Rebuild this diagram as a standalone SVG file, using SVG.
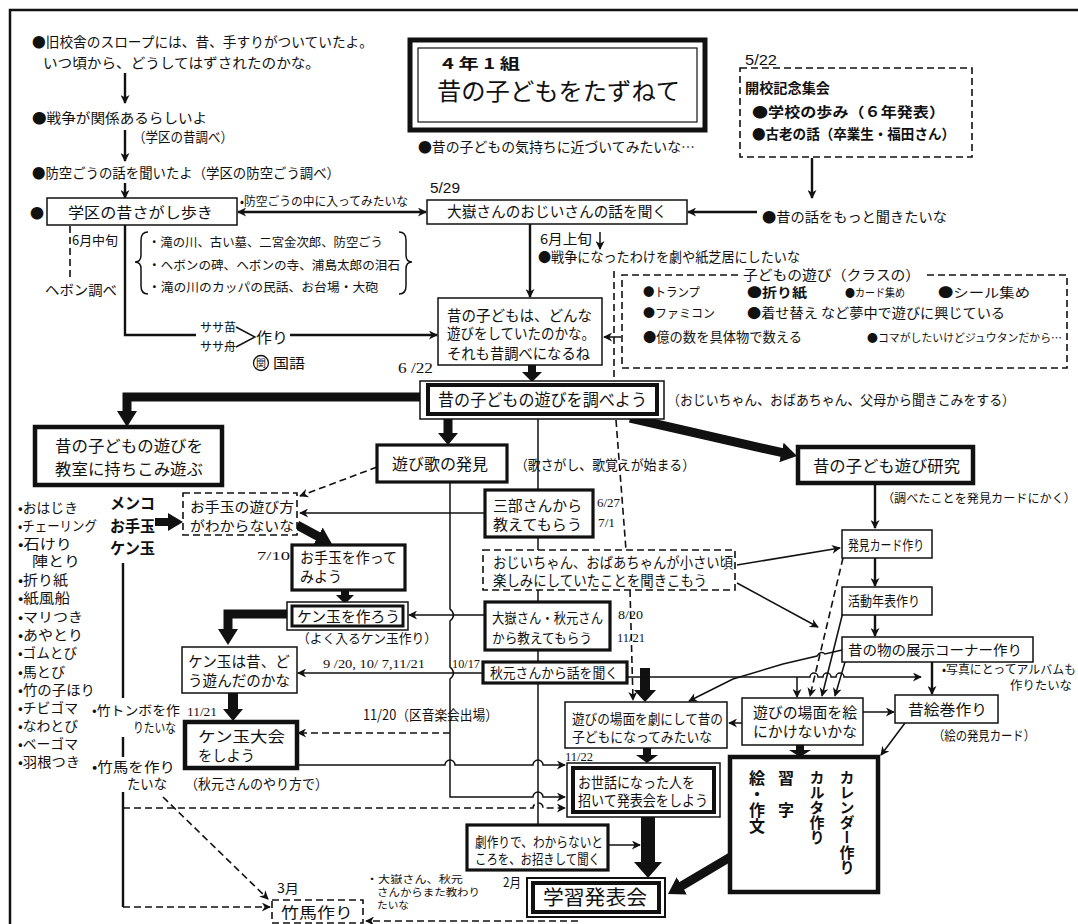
<svg xmlns="http://www.w3.org/2000/svg" width="1078" height="924" viewBox="0 0 1078 924">
<defs>
<style>
text{font-family:"Noto Sans CJK JP","Noto Sans CJK SC",sans-serif;fill:#111;}
.n{font-family:"Liberation Serif",serif;}
.ns{font-family:"Liberation Sans",sans-serif;}
.bx{fill:#fff;stroke:#111;stroke-width:1.5;}
.bk{fill:#fff;stroke:#111;stroke-width:4.5;}
.bm{fill:#fff;stroke:#111;stroke-width:3.2;}
.ds{fill:#fff;stroke:#111;stroke-width:1.6;stroke-dasharray:7 4;}
.l{fill:none;stroke:#111;stroke-width:1.5;}
.l2{fill:none;stroke:#111;stroke-width:2.4;}
.ld{fill:none;stroke:#111;stroke-width:1.6;stroke-dasharray:7 4;}
.th{fill:none;stroke:#111;stroke-width:9;}
.ba{fill:#111;stroke:none;}
</style>
<marker id="a" viewBox="0 0 10 10" refX="9" refY="5" markerWidth="11" markerHeight="9" markerUnits="userSpaceOnUse" orient="auto-start-reverse"><path d="M0,0 L10,5 L0,10 L3,5 z" fill="#111"/></marker>
<marker id="T" viewBox="0 0 16 20" refX="1" refY="10" markerWidth="16" markerHeight="20" markerUnits="userSpaceOnUse" orient="auto"><path d="M0,0 L16,10 L0,20 z" fill="#111"/></marker>
</defs>
<rect x="0" y="0" width="1078" height="924" fill="#fff"/>
<path d="M10,924 V10 H1078" fill="none" stroke="#111" stroke-width="2.5"/>

<g id="connectors">
<line x1="125" y1="73" x2="125" y2="103" class="l2" marker-end="url(#a)"/>
<line x1="125" y1="130" x2="125" y2="161" class="l2" marker-end="url(#a)"/>
<line x1="125" y1="183" x2="125" y2="198" class="l2" marker-end="url(#a)"/>
<line x1="238" y1="212" x2="426" y2="212" class="l2" marker-start="url(#a)" marker-end="url(#a)"/>
<line x1="757" y1="212" x2="688" y2="212" class="l2" marker-end="url(#a)"/>
<line x1="812" y1="158" x2="812" y2="198" class="l2" marker-end="url(#a)"/>
<line x1="70" y1="226" x2="70" y2="280" class="ld"/>
<path d="M125,225 V335 H196" class="l2"/>
<path d="M290,335 H437" class="l2" marker-end="url(#a)"/>
<line x1="530" y1="224" x2="530" y2="297" class="l2" marker-end="url(#a)"/>
<line x1="600" y1="232" x2="600" y2="249" class="l" marker-end="url(#a)"/>
<path d="M614,271 V381" class="ld"/>
<path d="M616,420 L626,550" class="ld"/>
<line x1="621" y1="337" x2="604" y2="337" class="l" marker-end="url(#a)"/>
<polygon class="ba" points="528,362 536,362 536,372 542,372 532,382 522,372 528,372"/>
<path d="M420,397 H127 V412" class="th" marker-end="url(#T)"/>
<polygon class="ba" points="443.5,419 452.5,419 452.5,433 458,433 448,445 438,433 443.5,433"/>
<path d="M630,418 L782.4,452.7" class="th" marker-end="url(#T)"/>
<line x1="377" y1="467" x2="300" y2="496" class="ld" marker-end="url(#a)"/>
<path d="M538,419 V825" class="l"/>
<path d="M485,513 H300" class="l" marker-end="url(#a)"/>
<polygon class="ba" points="155,518 168,518 168,513 183,522 168,531 168,526 155,526"/>
<path d="M297,525 L318.8,536.8" class="th" stroke-width="8" marker-end="url(#T)"/>
<polygon class="ba" points="341,590 349,590 349,595 354,595 345,604 336,595 341,595"/>
<path d="M287,614 H228 V630" class="th" marker-end="url(#T)"/>
<path d="M485,615 H409" class="l" marker-end="url(#a)"/>
<path d="M450,482 V609 Q457,615 450,621 V667 Q457,673 450,679 V797 H533 a5,5 0 0 1 10,0 H565" class="l" marker-end="url(#a)"/>
<path d="M450,733 H298" class="ld" marker-end="url(#a)"/>
<path d="M483,673 H298" class="l" marker-end="url(#a)"/>
<polygon class="ba" points="228,693 238,693 238,709 243,709 233,721 223,709 228,709"/>
<path d="M297,765 H445 a5,5 0 0 1 10,0 H533 a5,5 0 0 1 10,0 H565" class="l" marker-end="url(#a)"/>
<path d="M123,808 H533 a5,5 0 0 1 10,0 H565" class="ld" marker-end="url(#a)"/>
<path d="M123,563 V698 M123,737 V757 M123,792 V907" class="l2"/>
<path d="M123,907 H270" class="ld" marker-end="url(#a)"/>
<path d="M163,797 L268,899" class="ld" marker-end="url(#a)"/>
<path d="M578,921 H366" class="ld" marker-end="url(#a)"/>
<path d="M630,590 L633,700" class="ld" marker-end="url(#a)"/>
<polygon class="ba" points="640,668 650,668 650,690 656,690 645,702 634,690 640,690"/>
<path d="M737,565 L840,548" class="l" marker-end="url(#a)"/>
<path d="M737,583 L818,627" class="l" marker-end="url(#a)"/>
<path d="M875,483 V528" class="l2" marker-end="url(#a)"/>
<path d="M875,558 V586" class="l2" marker-end="url(#a)"/>
<path d="M875,615 V636" class="l2" marker-end="url(#a)"/>
<path d="M627,677 H810 a4,4 0 0 1 8,0 H823 a4,4 0 0 1 8,0 H836 a4,4 0 0 1 8,0 H921" class="l" marker-end="url(#a)"/>
<path d="M797,677 V697" class="l" marker-end="url(#a)"/>
<path d="M843,558 L810,696" class="ld" marker-end="url(#a)"/>
<path d="M843,612 L822,696" class="l" marker-end="url(#a)"/>
<path d="M845,662 L835,696" class="l" marker-end="url(#a)"/>
<path d="M842,650 L825,654 Q821,650 817,656 L783,664 L733,679 L689,701" class="l" marker-end="url(#a)"/>
<path d="M932,662 V694" class="l2" marker-end="url(#a)"/>
<path d="M863,712 H894" class="l" marker-end="url(#a)"/>
<path d="M742,723 H729" class="l" marker-end="url(#a)"/>
<polygon class="ba" points="796,745 804,745 804,750 811,750 800,757 789,750 796,750"/>
<path d="M905,723 L881,755" class="l" marker-end="url(#a)"/>
<path d="M732,856 L680.9,886.3" class="th" marker-end="url(#T)"/>
<polygon class="ba" points="643,748 651,748 651,755 658,755 647,763 636,755 643,755"/>
<polygon class="ba" points="641,817 655,817 655,862 662,862 648,878 634,862 641,862"/>
<path d="M608,845 H640" class="l" marker-end="url(#a)"/>
</g>

<g id="intro">
<text x="32" y="47" font-size="14" textLength="341" lengthAdjust="spacingAndGlyphs">●旧校舎のスロープには、昔、手すりがついていたよ。</text>
<text x="43" y="68" font-size="14" textLength="277" lengthAdjust="spacingAndGlyphs">いつ頃から、どうしてはずされたのかな。</text>
<text x="32" y="123" font-size="14" textLength="175" lengthAdjust="spacingAndGlyphs">●戦争が関係あるらしいよ</text>
<text x="133" y="142" font-size="14" textLength="100" lengthAdjust="spacingAndGlyphs">（学区の昔調べ）</text>
<text x="32" y="178" font-size="14" textLength="308" lengthAdjust="spacingAndGlyphs">●防空ごうの話を聞いたよ（学区の防空ごう調べ）</text>
<text x="30" y="218" font-size="14">●</text>
</g>

<g id="title">
<rect x="410" y="40" width="295" height="90" fill="#fff" stroke="#111" stroke-width="5"/>
<rect x="418" y="48" width="279" height="74" fill="none" stroke="#111" stroke-width="1.2"/>
<text x="442" y="69" font-size="15" font-weight="bold" textLength="78" lengthAdjust="spacingAndGlyphs">4 年 1 組</text>
<text x="437" y="100" font-size="24" textLength="243" lengthAdjust="spacingAndGlyphs">昔の子どもをたずねて</text>
<text x="418" y="152" font-size="14" textLength="277" lengthAdjust="spacingAndGlyphs">●昔の子どもの気持ちに近づいてみたいな…</text>
</g>

<g id="n-kaikou">
<text x="745" y="65" font-size="14" class="ns" textLength="32" lengthAdjust="spacingAndGlyphs">5/22</text>
<rect x="740" y="68" width="232" height="89" class="ds"/>
<text x="745" y="93" font-size="14" font-weight="bold" textLength="85" lengthAdjust="spacingAndGlyphs">開校記念集会</text>
<text x="752" y="117" font-size="14" font-weight="bold" textLength="193" lengthAdjust="spacingAndGlyphs">●学校の歩み（６年発表）</text>
<text x="752" y="139" font-size="14" font-weight="bold" textLength="203" lengthAdjust="spacingAndGlyphs">●古老の話（卒業生・福田さん）</text>
</g>

<g id="n-motto">
<text x="762" y="222" font-size="14" textLength="185" lengthAdjust="spacingAndGlyphs">●昔の話をもっと聞きたいな</text>
</g>

<g id="n-gakku">
<rect x="47" y="198" width="190" height="27" class="bx"/>
<text x="68" y="218" font-size="15" textLength="145" lengthAdjust="spacingAndGlyphs">学区の昔さがし歩き</text>
<text x="240" y="206" font-size="12" textLength="168" lengthAdjust="spacingAndGlyphs">•防空ごうの中に入ってみたいな</text>
<text x="72" y="245" font-size="13" textLength="46" lengthAdjust="spacingAndGlyphs">6月中旬</text>
<text x="45" y="295" font-size="14" textLength="72" lengthAdjust="spacingAndGlyphs">ヘボン調べ</text>
<path d="M148,232 Q141,232 141,240 L141,255 Q141,262 135,262 Q141,262 141,269 L141,286 Q141,294 148,294" class="l"/>
<path d="M399,232 Q406,232 406,240 L406,255 Q406,262 412,262 Q406,262 406,269 L406,286 Q406,294 399,294" class="l"/>
<text x="148" y="247" font-size="12.5" textLength="235" lengthAdjust="spacingAndGlyphs">・滝の川、古い墓、二宮金次郎、防空ごう</text>
<text x="148" y="270" font-size="12.5" textLength="252" lengthAdjust="spacingAndGlyphs">・ヘボンの碑、ヘボンの寺、浦島太郎の泪石</text>
<text x="148" y="292" font-size="12.5" textLength="230" lengthAdjust="spacingAndGlyphs">・滝の川のカッパの民話、お台場・大砲</text>
<text x="200" y="332" font-size="12.5" textLength="36" lengthAdjust="spacingAndGlyphs">ササ苗</text>
<text x="200" y="351" font-size="12.5" textLength="36" lengthAdjust="spacingAndGlyphs">ササ舟</text>
<path d="M236,327 L255,337 L236,347" class="l"/>
<text x="256" y="343" font-size="15" textLength="32" lengthAdjust="spacingAndGlyphs">作り</text>
<circle cx="261" cy="363" r="7.5" fill="none" stroke="#111" stroke-width="1.3"/>
<text x="261" y="367" font-size="10" text-anchor="middle">関</text>
<text x="273" y="368" font-size="14" textLength="32" lengthAdjust="spacingAndGlyphs">国語</text>
</g>

<g id="n-ootake">
<text x="430" y="193" font-size="14" class="ns" textLength="30" lengthAdjust="spacingAndGlyphs">5/29</text>
<rect x="427" y="200" width="260" height="24" class="bx"/>
<text x="447" y="217" font-size="15" textLength="220" lengthAdjust="spacingAndGlyphs">大嶽さんのおじいさんの話を聞く</text>
<text x="540" y="244" font-size="13.5" textLength="52" lengthAdjust="spacingAndGlyphs">6月上旬</text>
<text x="538" y="262" font-size="13.5" textLength="262" lengthAdjust="spacingAndGlyphs">●戦争になったわけを劇や紙芝居にしたいな</text>
</g>

<g id="n-donna">
<rect x="438" y="298" width="164" height="67" class="bx"/>
<text x="447" y="321" font-size="15" textLength="145" lengthAdjust="spacingAndGlyphs">昔の子どもは、どんな</text>
<text x="447" y="339" font-size="15" textLength="148" lengthAdjust="spacingAndGlyphs">遊びをしていたのかな。</text>
<text x="447" y="359" font-size="15" textLength="143" lengthAdjust="spacingAndGlyphs">それも昔調べになるね</text>
<text x="398" y="373" font-size="15" class="n" textLength="35" lengthAdjust="spacingAndGlyphs">6 /22</text>
</g>

<g id="n-kodomo-asobi">
<path d="M738,275 H622 V368 H1067 V275 H925" class="ld"/>
<text x="743" y="280" font-size="14" textLength="177" lengthAdjust="spacingAndGlyphs">子どもの遊び（クラスの）</text>
<text x="643" y="297" font-size="12" textLength="57" lengthAdjust="spacingAndGlyphs">●トランプ</text>
<text x="747" y="297" font-size="13" font-weight="bold" textLength="60" lengthAdjust="spacingAndGlyphs">●折り紙</text>
<text x="845" y="297" font-size="11" textLength="60" lengthAdjust="spacingAndGlyphs">●カード集め</text>
<text x="938" y="297" font-size="13" textLength="92" lengthAdjust="spacingAndGlyphs">●シール集め</text>
<text x="643" y="318" font-size="12" textLength="72" lengthAdjust="spacingAndGlyphs">●ファミコン</text>
<text x="747" y="318" font-size="13.5" textLength="258" lengthAdjust="spacingAndGlyphs">●着せ替え など夢中で遊びに興じている</text>
<text x="643" y="342" font-size="13.5" textLength="159" lengthAdjust="spacingAndGlyphs">●億の数を具体物で数える</text>
<text x="867" y="342" font-size="11" textLength="195" lengthAdjust="spacingAndGlyphs">●コマがしたいけどジュウタンだから…</text>
</g>

<g id="n-shirabeyou">
<rect x="420" y="381" width="244" height="38" class="bx"/>
<rect x="428" y="385" width="229" height="29" fill="#fff" stroke="#111" stroke-width="4"/>
<text x="438" y="406" font-size="17" textLength="209" lengthAdjust="spacingAndGlyphs">昔の子どもの遊びを調べよう</text>
<text x="667" y="405" font-size="14" textLength="348" lengthAdjust="spacingAndGlyphs">（おじいちゃん、おばあちゃん、父母から聞きこみをする）</text>
</g>

<g id="n-kyoushitsu">
<rect x="35" y="427" width="187" height="58" class="bk"/>
<text x="55" y="452" font-size="15.5" textLength="148" lengthAdjust="spacingAndGlyphs">昔の子どもの遊びを</text>
<text x="55" y="475" font-size="15.5" textLength="148" lengthAdjust="spacingAndGlyphs">教室に持ちこみ遊ぶ</text>
</g>

<g id="n-asobiuta">
<rect x="377" y="445" width="130" height="37" class="bm"/>
<text x="392" y="470" font-size="16" textLength="96" lengthAdjust="spacingAndGlyphs">遊び歌の発見</text>
<text x="515" y="470" font-size="14" textLength="180" lengthAdjust="spacingAndGlyphs">（歌さがし、歌覚えが始まる）</text>
</g>

<g id="n-kenkyu">
<rect x="798" y="447" width="175" height="36" class="bk"/>
<text x="813" y="472" font-size="16" textLength="147" lengthAdjust="spacingAndGlyphs">昔の子ども遊び研究</text>
<text x="882" y="503" font-size="12" textLength="194" lengthAdjust="spacingAndGlyphs">（調べたことを発見カードにかく）</text>
</g>

<g id="n-hakken">
<rect x="842" y="530" width="90" height="28" class="bx"/>
<text x="848" y="550" font-size="14" textLength="76" lengthAdjust="spacingAndGlyphs">発見カード作り</text>
</g>
<g id="n-nenpyou">
<rect x="842" y="587" width="90" height="28" class="bx"/>
<text x="848" y="606" font-size="14" textLength="72" lengthAdjust="spacingAndGlyphs">活動年表作り</text>
</g>
<g id="n-tenji">
<rect x="842" y="637" width="191" height="25" class="bx"/>
<text x="848" y="655" font-size="14" textLength="174" lengthAdjust="spacingAndGlyphs">昔の物の展示コーナー作り</text>
<text x="942" y="674" font-size="12" textLength="134" lengthAdjust="spacingAndGlyphs">•写真にとってアルバムも</text>
<text x="1010" y="690" font-size="12" textLength="62" lengthAdjust="spacingAndGlyphs">作りたいな</text>
</g>

<g id="n-list">
<text x="110" y="509" font-size="16" font-weight="bold" textLength="45" lengthAdjust="spacingAndGlyphs">メンコ</text>
<text x="110" y="532" font-size="16" font-weight="bold" textLength="45" lengthAdjust="spacingAndGlyphs">お手玉</text>
<text x="110" y="554" font-size="16" font-weight="bold" textLength="45" lengthAdjust="spacingAndGlyphs">ケン玉</text>
<g font-size="13.5">
<text x="18" y="513" textLength="60" lengthAdjust="spacingAndGlyphs">•おはじき</text>
<text x="18" y="531" textLength="79" lengthAdjust="spacingAndGlyphs">•チェーリング</text>
<text x="18" y="549" textLength="54" lengthAdjust="spacingAndGlyphs">•石けり</text>
<text x="32" y="566" textLength="48" lengthAdjust="spacingAndGlyphs">陣とり</text>
<text x="18" y="585" textLength="50" lengthAdjust="spacingAndGlyphs">•折り紙</text>
<text x="18" y="603" textLength="52" lengthAdjust="spacingAndGlyphs">•紙風船</text>
<text x="18" y="622" textLength="65" lengthAdjust="spacingAndGlyphs">•マリつき</text>
<text x="18" y="640" textLength="65" lengthAdjust="spacingAndGlyphs">•あやとり</text>
<text x="18" y="658" textLength="59" lengthAdjust="spacingAndGlyphs">•ゴムとび</text>
<text x="18" y="677" textLength="47" lengthAdjust="spacingAndGlyphs">•馬とび</text>
<text x="18" y="695" textLength="77" lengthAdjust="spacingAndGlyphs">•竹の子ほり</text>
<text x="18" y="713" textLength="60" lengthAdjust="spacingAndGlyphs">•チビゴマ</text>
<text x="18" y="731" textLength="60" lengthAdjust="spacingAndGlyphs">•なわとび</text>
<text x="18" y="749" textLength="60" lengthAdjust="spacingAndGlyphs">•ベーゴマ</text>
<text x="18" y="767" textLength="62" lengthAdjust="spacingAndGlyphs">•羽根つき</text>
</g>
<text x="92" y="715" font-size="13" textLength="88" lengthAdjust="spacingAndGlyphs">•竹トンボを作</text>
<text x="133" y="732" font-size="13" textLength="43" lengthAdjust="spacingAndGlyphs">りたいな</text>
<text x="92" y="772" font-size="14" textLength="83" lengthAdjust="spacingAndGlyphs">•竹馬を作り</text>
<text x="127" y="789" font-size="14" textLength="40" lengthAdjust="spacingAndGlyphs">たいな</text>
</g>

<g id="n-otedama-asobikata">
<rect x="183" y="493" width="114" height="42" class="ds"/>
<text x="190" y="512" font-size="14" textLength="104" lengthAdjust="spacingAndGlyphs">お手玉の遊び方</text>
<text x="190" y="531" font-size="14" textLength="104" lengthAdjust="spacingAndGlyphs">がわからないな</text>
</g>

<g id="n-otedama-tsukuru">
<text x="257" y="560" font-size="13" class="n" textLength="33" lengthAdjust="spacingAndGlyphs">7/10</text>
<rect x="292" y="545" width="113" height="45" class="bm"/>
<text x="300" y="563" font-size="15" textLength="97" lengthAdjust="spacingAndGlyphs">お手玉を作って</text>
<text x="300" y="582" font-size="15" textLength="42" lengthAdjust="spacingAndGlyphs">みよう</text>
</g>

<g id="n-kendama-tsukurou">
<rect x="287" y="602" width="121" height="28" class="bx"/>
<rect x="292" y="606" width="111" height="20" fill="#fff" stroke="#111" stroke-width="3"/>
<text x="297" y="622" font-size="15" textLength="103" lengthAdjust="spacingAndGlyphs">ケン玉を作ろう</text>
<text x="297" y="643" font-size="13" textLength="140" lengthAdjust="spacingAndGlyphs">（よく入るケン玉作り）</text>
</g>

<g id="n-sanbu">
<rect x="485" y="490" width="108" height="47" class="bm"/>
<text x="493" y="511" font-size="15" textLength="89" lengthAdjust="spacingAndGlyphs">三部さんから</text>
<text x="493" y="530" font-size="15" textLength="89" lengthAdjust="spacingAndGlyphs">教えてもらう</text>
<text x="597" y="507" font-size="12" class="n" textLength="23" lengthAdjust="spacingAndGlyphs">6/27</text>
<text x="598" y="527" font-size="12" class="n" textLength="17" lengthAdjust="spacingAndGlyphs">7/1</text>
</g>

<g id="n-ojiichan">
<rect x="483" y="550" width="252" height="40" class="ds"/>
<text x="493" y="568" font-size="14.5" textLength="240" lengthAdjust="spacingAndGlyphs">おじいちゃん、おばあちゃんが小さい頃</text>
<text x="493" y="586" font-size="14.5" textLength="214" lengthAdjust="spacingAndGlyphs">楽しみにしていたことを聞きこもう</text>
</g>

<g id="n-ootake-akimoto">
<rect x="485" y="602" width="125" height="48" class="bm"/>
<text x="492" y="623" font-size="14" textLength="111" lengthAdjust="spacingAndGlyphs">大嶽さん・秋元さん</text>
<text x="492" y="643" font-size="14" textLength="100" lengthAdjust="spacingAndGlyphs">から教えてもらう</text>
<text x="618" y="619" font-size="12" class="n" textLength="25" lengthAdjust="spacingAndGlyphs">8/20</text>
<text x="617" y="642" font-size="12" class="n" textLength="28" lengthAdjust="spacingAndGlyphs">11/21</text>
</g>

<g id="n-kendama-mukashi">
<rect x="182" y="647" width="115" height="46" class="bx"/>
<text x="188" y="667" font-size="15" textLength="102" lengthAdjust="spacingAndGlyphs">ケン玉は昔、ど</text>
<text x="188" y="686" font-size="15" textLength="102" lengthAdjust="spacingAndGlyphs">う遊んだのかな</text>
<text x="323" y="668" font-size="12" class="n" textLength="102" lengthAdjust="spacingAndGlyphs">9 /20, 10/ 7,11/21</text>
</g>

<g id="n-akimoto-hanashi">
<text x="452" y="668" font-size="12" class="n" textLength="28" lengthAdjust="spacingAndGlyphs">10/17</text>
<rect x="483" y="662" width="144" height="21" class="bm"/>
<text x="490" y="678" font-size="14" textLength="128" lengthAdjust="spacingAndGlyphs">秋元さんから話を聞く</text>
</g>

<g id="n-kendama-taikai">
<text x="187" y="716" font-size="12" class="n" textLength="30" lengthAdjust="spacingAndGlyphs">11/21</text>
<rect x="185" y="722" width="112" height="46" class="bk"/>
<text x="198" y="742" font-size="15" textLength="87" lengthAdjust="spacingAndGlyphs">ケン玉大会</text>
<text x="198" y="761" font-size="15" textLength="57" lengthAdjust="spacingAndGlyphs">をしよう</text>
<text x="185" y="789" font-size="14" textLength="143" lengthAdjust="spacingAndGlyphs">（秋元さんのやり方で）</text>
<text x="363" y="720" font-size="14" textLength="135" lengthAdjust="spacingAndGlyphs">11/20（区音楽会出場）</text>
</g>

<g id="n-geki">
<rect x="565" y="702" width="162" height="46" class="bx"/>
<text x="572" y="724" font-size="14" textLength="151" lengthAdjust="spacingAndGlyphs">遊びの場面を劇にして昔の</text>
<text x="572" y="742" font-size="14" textLength="140" lengthAdjust="spacingAndGlyphs">子どもになってみたいな</text>
</g>

<g id="n-e">
<rect x="742" y="698" width="121" height="47" class="bx"/>
<text x="753" y="718" font-size="15" textLength="104" lengthAdjust="spacingAndGlyphs">遊びの場面を絵</text>
<text x="753" y="737" font-size="15" textLength="104" lengthAdjust="spacingAndGlyphs">にかけないかな</text>
</g>

<g id="n-emaki">
<rect x="895" y="695" width="103" height="28" class="bx"/>
<text x="908" y="715" font-size="15" textLength="79" lengthAdjust="spacingAndGlyphs">昔絵巻作り</text>
<text x="933" y="740" font-size="13" textLength="102" lengthAdjust="spacingAndGlyphs">（絵の発見カード）</text>
</g>

<g id="n-big">
<rect x="730" y="757" width="148" height="135" class="bk"/>
<text x="757" y="770" font-size="16" font-weight="bold" style="writing-mode:vertical-rl">絵・作文</text>
<text x="786" y="770" font-size="16" font-weight="bold" style="writing-mode:vertical-rl">習　字</text>
<text x="817" y="770" font-size="15" font-weight="bold" style="writing-mode:vertical-rl">カルタ作り</text>
<text x="847" y="770" font-size="15" font-weight="bold" style="writing-mode:vertical-rl">カレンダー作り</text>
</g>

<g id="n-osewa">
<text x="565" y="761" font-size="12" class="n" textLength="28" lengthAdjust="spacingAndGlyphs">11/22</text>
<rect x="567" y="763" width="153" height="54" class="bx"/>
<rect x="573" y="768" width="141" height="44" fill="#fff" stroke="#111" stroke-width="4"/>
<text x="578" y="788" font-size="15" textLength="117" lengthAdjust="spacingAndGlyphs">お世話になった人を</text>
<text x="578" y="806" font-size="15" textLength="130" lengthAdjust="spacingAndGlyphs">招いて発表会をしよう</text>
</g>

<g id="n-gekizukuri">
<rect x="467" y="825" width="141" height="45" class="bm"/>
<text x="475" y="847" font-size="14" textLength="128" lengthAdjust="spacingAndGlyphs">劇作りで、わからないと</text>
<text x="475" y="864" font-size="14" textLength="125" lengthAdjust="spacingAndGlyphs">ころを、お招きして聞く</text>
</g>

<g id="n-gakushu">
<text x="503" y="887" font-size="13" textLength="18" lengthAdjust="spacingAndGlyphs">2月</text>
<rect x="527" y="878" width="138" height="39" fill="#fff" stroke="#111" stroke-width="2"/>
<rect x="533" y="883" width="126" height="29" fill="#fff" stroke="#111" stroke-width="4"/>
<text x="543" y="905" font-size="20" textLength="104" lengthAdjust="spacingAndGlyphs">学習発表会</text>
<text x="366" y="883" font-size="10.5" textLength="97" lengthAdjust="spacingAndGlyphs">・大嶽さん、秋元</text>
<text x="377" y="896" font-size="10.5" textLength="103" lengthAdjust="spacingAndGlyphs">さんからまた教わり</text>
<text x="377" y="909" font-size="10.5" textLength="32" lengthAdjust="spacingAndGlyphs">たいな</text>
</g>

<g id="n-takeuma">
<text x="277" y="893" font-size="13" textLength="22" lengthAdjust="spacingAndGlyphs">3月</text>
<rect x="272" y="900" width="91" height="23" class="ds"/>
<text x="281" y="918" font-size="15" textLength="72" lengthAdjust="spacingAndGlyphs">竹馬作り</text>
</g>
</svg>
